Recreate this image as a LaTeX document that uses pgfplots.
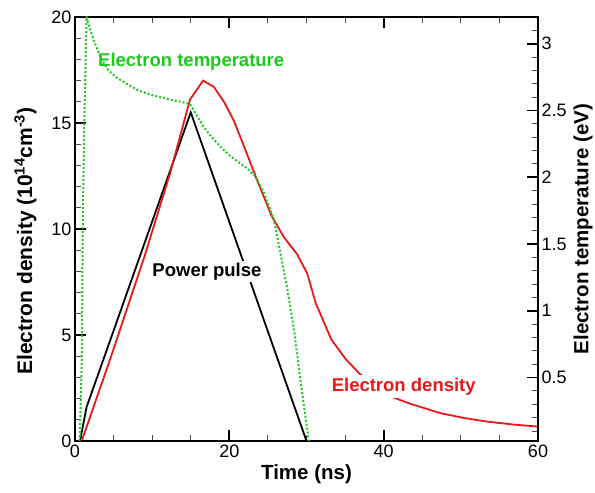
\documentclass[border=0pt]{standalone}
\usepackage{fontspec}
\setmainfont{Liberation Sans}
\usepackage{pgfplots}
\pgfplotsset{compat=1.18}

\definecolor{densred}{RGB}{232,24,24}
\definecolor{tempgreen}{RGB}{30,200,30}

% power pulse (left axis units)
\pgfplotstableread{
x y
0.65 0
1.5 1.6
15.0 15.5
30.0 0
}\tabpulse

% electron density (10^14 cm^-3)
\pgfplotstableread{
x y
0.87 0
4.5 3.8
9.0 8.7
12.3 12.6
14.9 16.1
16.6 17.0
18.0 16.7
19.3 16.0
20.6 15.1
21.9 13.9
23.5 12.4
25.5 10.6
27.1 9.6
28.8 8.8
30.1 7.9
31.2 6.5
33.2 4.8
35.0 3.9
36.8 3.2
38.8 2.6
40.9 2.1
43.5 1.75
47.4 1.31
50.5 1.08
53.5 0.91
57.0 0.77
60.0 0.68
}\tabdens

% electron temperature (eV)
\pgfplotstableread{
x y
0.6 0.025
0.9 0.66
1.0 1.61
1.2 2.41
1.5 3.20
2.0 3.10
2.6 3.00
3.3 2.90
4.2 2.81
5.3 2.75
6.7 2.70
8.2 2.65
9.7 2.62
11.0 2.60
12.3 2.58
13.7 2.565
14.9 2.549
15.8 2.46
16.7 2.375
17.7 2.30
18.8 2.232
19.9 2.17
21.0 2.121
22.2 2.07
23.3 2.009
24.5 1.882
25.3 1.76
25.8 1.676
26.6 1.438
27.5 1.168
28.4 0.851
29.2 0.485
30.3 0.025
}\tabtemp

\begin{document}
\begin{tikzpicture}
\begin{axis}[
  name=main,
  scale only axis,
  width=463pt, height=424pt,
  xmin=0, xmax=60, ymin=0, ymax=20,
  xtick={0,20,40,60}, minor xtick={5,10,15,25,30,35,45,50,55},
  ytick={0,5,10,15,20}, minor ytick={1,2,3,4,6,7,8,9,11,12,13,14,16,17,18,19},
  xtick pos=both, ytick pos=left, xticklabel pos=bottom,
  tick align=inside,
  major tick length=11pt, minor tick length=6pt,
  axis line style={line width=2pt, draw=black},
  major tick style={line width=1.8pt, draw=black},
  minor tick style={line width=0.9pt, draw=black!70},
  tick label style={font=\fontsize{18}{20}\selectfont},
  /pgf/number format/assume math mode=true,
  xlabel={Time (ns)},
  ylabel={Electron density (10\textsuperscript{14}cm\textsuperscript{-3})},
  xlabel style={font=\fontsize{20.5}{22}\selectfont\bfseries},
  ylabel style={font=\fontsize{21}{23}\selectfont\bfseries, xshift=-12pt, yshift=8pt},
]
\addplot[black, line width=1.8pt] table {\tabpulse};
\addplot[densred, line width=1.8pt] table {\tabdens};
\node[anchor=base, text=tempgreen, font=\fontsize{18.5}{20}\selectfont\bfseries]
  at (axis cs:15.06,17.65) {Electron temperature};
\node[anchor=base, font=\fontsize{18.5}{20}\selectfont\bfseries, fill=white, inner sep=2pt]
  at (axis cs:17.1,7.78) {Power pulse};
\node[anchor=base, text=densred, font=\fontsize{18.5}{20}\selectfont\bfseries, fill=white, inner sep=3pt]
  at (axis cs:42.6,2.33) {Electron density};
\end{axis}
\begin{axis}[
  scale only axis,
  width=463pt, height=424pt,
  xmin=0, xmax=60, ymin=0.025, ymax=3.2,
  xtick=\empty,
  ytick={0.5,1,1.5,2,2.5,3},
  minor ytick={0.1,0.2,0.3,0.4,0.6,0.7,0.8,0.9,1.1,1.2,1.3,1.4,1.6,1.7,1.8,1.9,2.1,2.2,2.3,2.4,2.6,2.7,2.8,2.9,3.1},
  ytick pos=right, yticklabel pos=right,
  tick align=inside,
  major tick length=11pt, minor tick length=6pt,
  axis line style={line width=2pt, draw=black},
  major tick style={line width=1.8pt, draw=black},
  minor tick style={line width=0.9pt, draw=black!70},
  tick label style={font=\fontsize{18}{20}\selectfont},
  /pgf/number format/assume math mode=true,
  ylabel near ticks,
  ylabel={Electron temperature (eV)},
  ylabel style={font=\fontsize{20.5}{22}\selectfont\bfseries},
]
\addplot[tempgreen, line width=2pt, dash pattern=on 2pt off 2pt] table {\tabtemp};
\end{axis}
\pgfresetboundingbox
\useasboundingbox ([xshift=-75pt,yshift=-51pt]main.south west) rectangle ([xshift=57pt,yshift=17pt]main.north east);
\end{tikzpicture}
\end{document}
